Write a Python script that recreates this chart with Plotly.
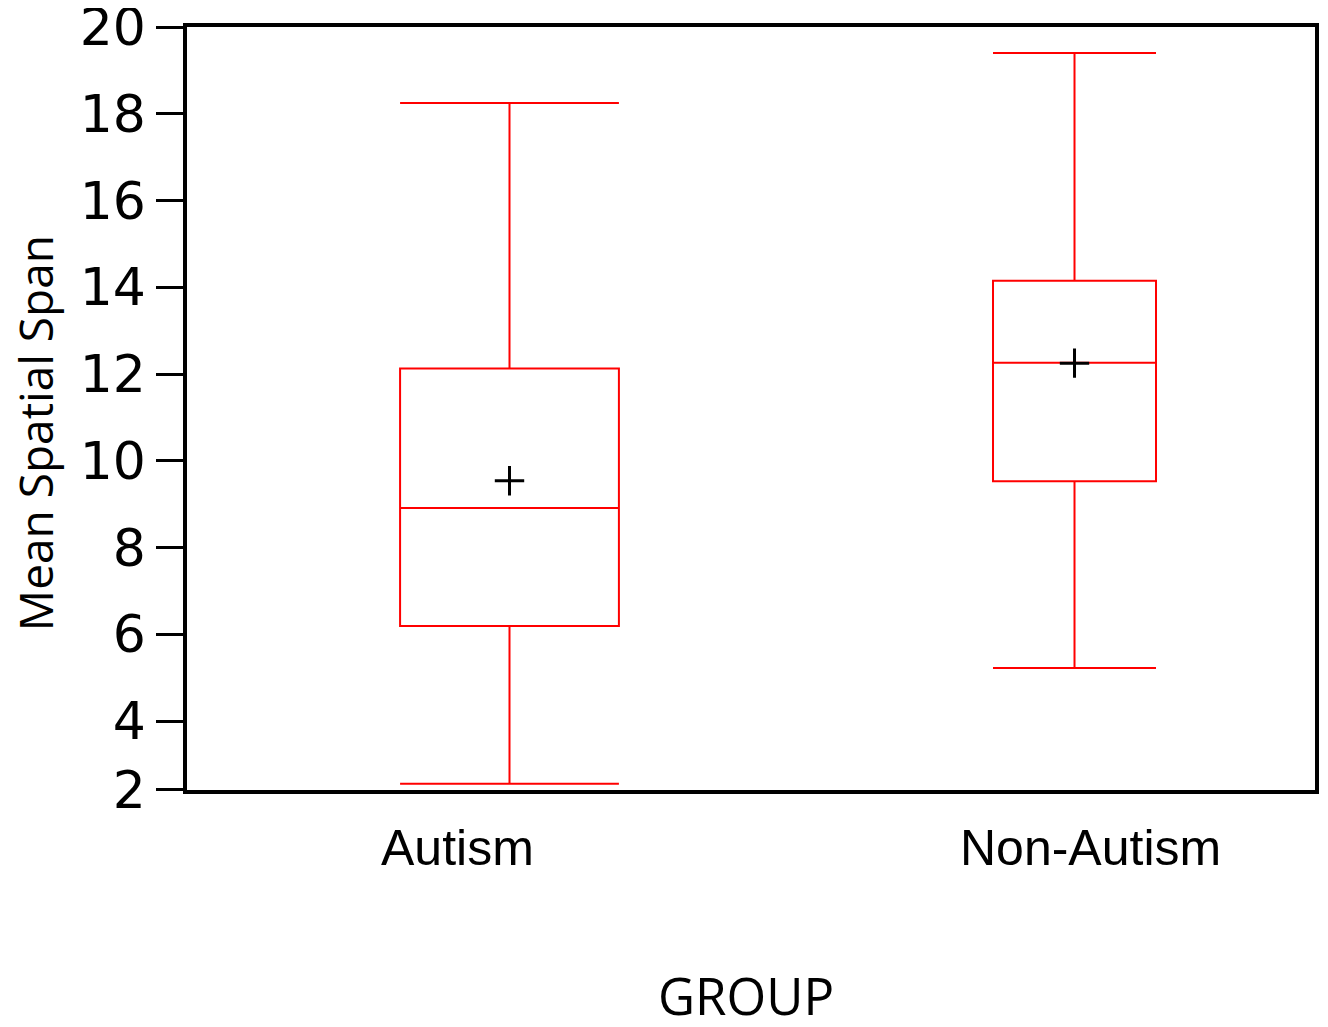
import plotly.graph_objects as go

groups = ["Autism", "Non-Autism"]
positions = [0.2859, 0.7868]
box_widths = [0.194, 0.1445]
label_pos = [0.2394, 0.8014]
lower = [2.555, 5.22]
q1 = [6.19, 9.53]
median = [8.91, 12.26]
q3 = [12.13, 14.15]
upper = [18.25, 19.40]
means = [9.54, 12.25]

y_tickvals = [2.412, 4, 6, 8, 10, 12, 14, 16, 18, 19.998]
y_ticktext = ["2", "4", "6", "8", "10", "12", "14", "16", "18", "20"]

fig = go.Figure()
for i, g in enumerate(groups):
    fig.add_trace(go.Box(
        x=[positions[i]], lowerfence=[lower[i]], q1=[q1[i]], median=[median[i]],
        q3=[q3[i]], upperfence=[upper[i]], width=box_widths[i], whiskerwidth=1,
        line=dict(color="#ff0000", width=2), fillcolor="rgba(0,0,0,0)",
        boxpoints=False, name=g, showlegend=False, hoverinfo="skip"))

fig.add_trace(go.Scatter(
    x=positions, y=means, mode="markers", showlegend=False,
    marker=dict(symbol="cross-thin", size=21, line=dict(color="black", width=3))))

for i, g in enumerate(groups):
    fig.add_annotation(x=label_pos[i], y=0, xref="x", yref="paper", text=g,
                       showarrow=False, yanchor="middle", yshift=-58,
                       font=dict(family="Liberation Sans, Arial", size=50, color="black"))

fig.add_annotation(x=0.4956, y=0, xref="paper", yref="paper", text="GROUP",
                   showarrow=False, yanchor="middle", yshift=-205,
                   font=dict(family="Open Sans", size=51, color="black"))
fig.add_annotation(x=-0.1345, y=0.468, xref="paper", yref="paper", text="Mean Spatial Span",
                   showarrow=False, textangle=-90, xanchor="center", yanchor="middle",
                   font=dict(family="Open Sans", size=46, color="black"))

fig.update_layout(
    width=1312, height=1011, margin=dict(l=179, r=5, t=19, b=229, autoexpand=False),
    paper_bgcolor="white", plot_bgcolor="white",
    xaxis=dict(range=[0, 1], showgrid=False, zeroline=False, showticklabels=False,
               showline=True, mirror=True, linecolor="black", linewidth=3.5, ticks="",
               automargin=False),
    yaxis=dict(range=[2.41, 20], tickvals=y_tickvals, ticktext=y_ticktext,
               showgrid=False, zeroline=False, showline=True, mirror=True,
               linecolor="black", linewidth=3.5, ticks="outside", ticklen=27,
               tickwidth=3, tickcolor="black", automargin=False,
               ticklabeloverflow="allow",
               tickfont=dict(family="DejaVu Sans", size=52, color="black")),
)

fig.write_html("out.html")
